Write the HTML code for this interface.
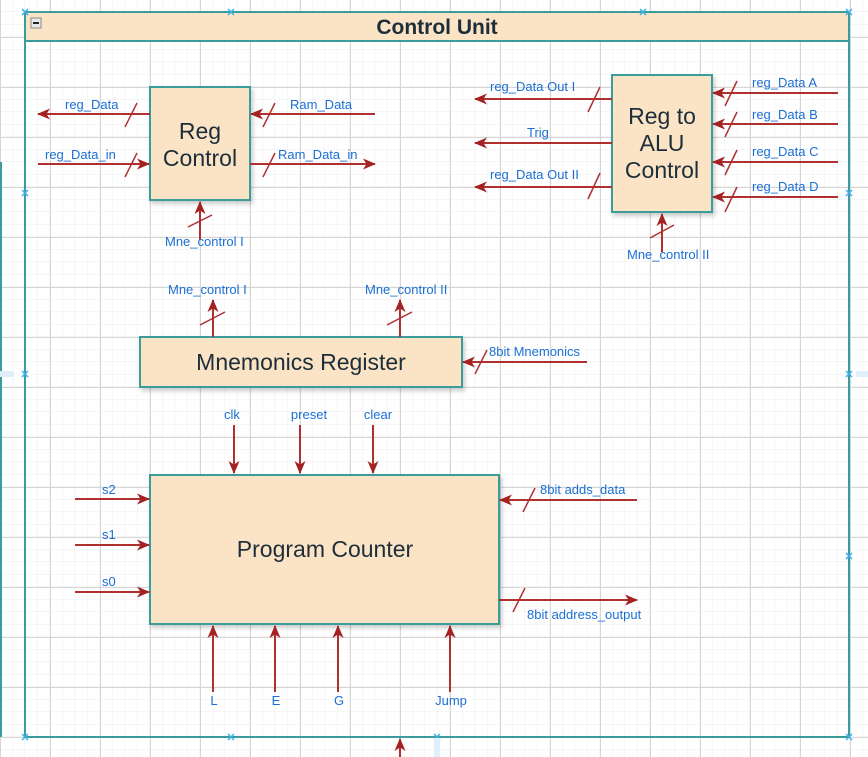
<!DOCTYPE html>
<html><head><meta charset="utf-8">
<style>
html,body{margin:0;padding:0;background:#fff;}
svg{display:block;}
text{font-family:"Liberation Sans",Arial,sans-serif;}
.lbl{fill:#1a6fd6;font-size:13px;}
.w{stroke:#b03030;stroke-width:2;fill:none;}
.s{stroke:#b03030;stroke-width:1.5;}
.box{fill:#fae4c5;stroke:#3a9c9c;stroke-width:2;}
.bt{fill:#1d2d3a;font-size:23px;text-anchor:middle;}
.x{stroke:#3ab0ea;stroke-width:1.5;}
</style></head><body>
<svg width="868" height="757" viewBox="0 0 868 757" xmlns="http://www.w3.org/2000/svg">
<defs>
<pattern id="minor" width="12.5" height="12.5" patternUnits="userSpaceOnUse" x="0" y="-0.5">
<path d="M12.5 0V12.5M0 12.5H12.5" stroke="#ececec" stroke-width="1" fill="none"/>
</pattern>
<pattern id="major" width="50" height="50" patternUnits="userSpaceOnUse" x="0" y="-13">
<path d="M0.5 0V50M0 0.5H50" stroke="#d6d6d6" stroke-width="1" fill="none"/>
</pattern>
<marker id="a" markerWidth="13" markerHeight="11" refX="12" refY="5.5" orient="auto" markerUnits="userSpaceOnUse">
<path d="M0,0 L13,5.5 L0,11 L3.5,5.5 Z" fill="#a52222"/>
</marker>
<filter id="sh" x="-10%" y="-10%" width="130%" height="130%"><feDropShadow dx="2" dy="3" stdDeviation="2" flood-color="#000" flood-opacity="0.2"/></filter>
</defs>
<rect width="868" height="757" fill="#fff"/>
<rect width="868" height="757" fill="url(#minor)"/>
<rect width="868" height="757" fill="url(#major)"/>

<line x1="1" y1="162" x2="1" y2="737" stroke="#3a9c9c" stroke-width="2"/>

<rect x="25" y="12" width="824" height="725" fill="none" stroke="#3a9c9c" stroke-width="2"/>
<rect x="25" y="12" width="824" height="29" fill="#fae4c5" stroke="#3a9c9c" stroke-width="2"/>
<rect x="31" y="18" width="10" height="10" fill="#e8e8e8" stroke="#888" stroke-width="1"/>
<line x1="33" y1="23" x2="39" y2="23" stroke="#222" stroke-width="2"/>
<text x="437" y="34" text-anchor="middle" font-size="21" font-weight="bold" fill="#1d2d3a">Control Unit</text>

<g class="x">
<path d="M22 9l6 6M28 9l-6 6"/><path d="M228 9l6 6M234 9l-6 6"/><path d="M640 9l6 6M646 9l-6 6"/><path d="M846 9l6 6M852 9l-6 6"/>
<path d="M22 190l6 6M28 190l-6 6"/><path d="M846 190l6 6M852 190l-6 6"/>
<path d="M22 371l6 6M28 371l-6 6"/><path d="M846 371l6 6M852 371l-6 6"/>
<path d="M846 553l6 6M852 553l-6 6"/>
<path d="M22 734l6 6M28 734l-6 6"/><path d="M228 734l6 6M234 734l-6 6"/><path d="M434 734l6 6M440 734l-6 6"/><path d="M846 734l6 6M852 734l-6 6"/>
</g>
<rect x="0" y="371" width="14" height="6" fill="#dff0fb"/>
<rect x="856" y="371" width="12" height="6" fill="#dff0fb"/>
<rect x="434" y="738" width="6" height="19" fill="#dff0fb"/>

<rect class="box" x="150" y="87" width="100" height="113" filter="url(#sh)"/>
<text class="bt" x="200" y="139">Reg</text>
<text class="bt" x="200" y="166">Control</text>
<line class="w" x1="150" y1="114" x2="38" y2="114" marker-end="url(#a)"/>
<line class="s" x1="137" y1="103" x2="125" y2="127"/>
<text class="lbl" x="65" y="109">reg_Data</text>
<line class="w" x1="375" y1="114" x2="251" y2="114" marker-end="url(#a)"/>
<line class="s" x1="275" y1="103" x2="263" y2="127"/>
<text class="lbl" x="290" y="109">Ram_Data</text>
<line class="w" x1="38" y1="164" x2="149" y2="164" marker-end="url(#a)"/>
<line class="s" x1="137" y1="153" x2="125" y2="177"/>
<text class="lbl" x="45" y="159">reg_Data_in</text>
<line class="w" x1="250" y1="164" x2="375" y2="164" marker-end="url(#a)"/>
<line class="s" x1="275" y1="153" x2="263" y2="177"/>
<text class="lbl" x="278" y="159">Ram_Data_in</text>
<line class="w" x1="200" y1="240" x2="200" y2="202" marker-end="url(#a)"/>
<line class="s" x1="188" y1="227" x2="212" y2="215"/>
<text class="lbl" x="165" y="246">Mne_control I</text>

<rect class="box" x="612" y="75" width="100" height="137" filter="url(#sh)"/>
<text class="bt" x="662" y="124">Reg to</text>
<text class="bt" x="662" y="151">ALU</text>
<text class="bt" x="662" y="178">Control</text>
<line class="w" x1="612" y1="99" x2="475" y2="99" marker-end="url(#a)"/>
<line class="s" x1="600" y1="87" x2="588" y2="112"/>
<text class="lbl" x="490" y="91">reg_Data Out I</text>
<line class="w" x1="612" y1="143" x2="475" y2="143" marker-end="url(#a)"/>
<text class="lbl" x="527" y="137">Trig</text>
<line class="w" x1="612" y1="187" x2="475" y2="187" marker-end="url(#a)"/>
<line class="s" x1="600" y1="173" x2="588" y2="199"/>
<text class="lbl" x="490" y="179">reg_Data Out II</text>
<line class="w" x1="838" y1="93" x2="713" y2="93" marker-end="url(#a)"/>
<line class="s" x1="737" y1="81" x2="725" y2="106"/>
<text class="lbl" x="752" y="87">reg_Data A</text>
<line class="w" x1="838" y1="124" x2="713" y2="124" marker-end="url(#a)"/>
<line class="s" x1="737" y1="112" x2="725" y2="137"/>
<text class="lbl" x="752" y="119">reg_Data B</text>
<line class="w" x1="838" y1="162" x2="713" y2="162" marker-end="url(#a)"/>
<line class="s" x1="737" y1="150" x2="725" y2="175"/>
<text class="lbl" x="752" y="156">reg_Data C</text>
<line class="w" x1="838" y1="197" x2="713" y2="197" marker-end="url(#a)"/>
<line class="s" x1="737" y1="187" x2="725" y2="212"/>
<text class="lbl" x="752" y="191">reg_Data D</text>
<line class="w" x1="662" y1="252" x2="662" y2="214" marker-end="url(#a)"/>
<line class="s" x1="650" y1="238" x2="674" y2="225"/>
<text class="lbl" x="627" y="259">Mne_control II</text>

<rect class="box" x="140" y="337" width="322" height="50" filter="url(#sh)"/>
<text class="bt" x="301" y="370">Mnemonics Register</text>
<line class="w" x1="213" y1="337" x2="213" y2="300" marker-end="url(#a)"/>
<line class="s" x1="200" y1="325" x2="225" y2="312"/>
<text class="lbl" x="168" y="294">Mne_control I</text>
<line class="w" x1="400" y1="337" x2="400" y2="300" marker-end="url(#a)"/>
<line class="s" x1="387" y1="325" x2="412" y2="312"/>
<text class="lbl" x="365" y="294">Mne_control II</text>
<line class="w" x1="587" y1="362" x2="463" y2="362" marker-end="url(#a)"/>
<line class="s" x1="487" y1="350" x2="475" y2="374"/>
<text class="lbl" x="489" y="356">8bit Mnemonics</text>

<rect class="box" x="150" y="475" width="349" height="149" filter="url(#sh)"/>
<text class="bt" x="325" y="557">Program Counter</text>
<line class="w" x1="234" y1="425" x2="234" y2="473" marker-end="url(#a)"/>
<text class="lbl" x="232" y="419" text-anchor="middle">clk</text>
<line class="w" x1="300" y1="425" x2="300" y2="473" marker-end="url(#a)"/>
<text class="lbl" x="309" y="419" text-anchor="middle">preset</text>
<line class="w" x1="373" y1="425" x2="373" y2="473" marker-end="url(#a)"/>
<text class="lbl" x="378" y="419" text-anchor="middle">clear</text>
<line class="w" x1="75" y1="499" x2="149" y2="499" marker-end="url(#a)"/>
<text class="lbl" x="102" y="494">s2</text>
<line class="w" x1="75" y1="545" x2="149" y2="545" marker-end="url(#a)"/>
<text class="lbl" x="102" y="539">s1</text>
<line class="w" x1="75" y1="592" x2="149" y2="592" marker-end="url(#a)"/>
<text class="lbl" x="102" y="586">s0</text>
<line class="w" x1="637" y1="500" x2="500" y2="500" marker-end="url(#a)"/>
<line class="s" x1="535" y1="488" x2="523" y2="512"/>
<text class="lbl" x="540" y="494">8bit adds_data</text>
<line class="w" x1="499" y1="600" x2="637" y2="600" marker-end="url(#a)"/>
<line class="s" x1="525" y1="588" x2="513" y2="612"/>
<text class="lbl" x="527" y="619">8bit address_output</text>
<line class="w" x1="213" y1="692" x2="213" y2="626" marker-end="url(#a)"/>
<text class="lbl" x="214" y="705" text-anchor="middle">L</text>
<line class="w" x1="275" y1="692" x2="275" y2="626" marker-end="url(#a)"/>
<text class="lbl" x="276" y="705" text-anchor="middle">E</text>
<line class="w" x1="338" y1="692" x2="338" y2="626" marker-end="url(#a)"/>
<text class="lbl" x="339" y="705" text-anchor="middle">G</text>
<line class="w" x1="450" y1="692" x2="450" y2="626" marker-end="url(#a)"/>
<text class="lbl" x="451" y="705" text-anchor="middle">Jump</text>

<line class="w" x1="400" y1="760" x2="400" y2="739" marker-end="url(#a)"/>
</svg>
</body></html>
